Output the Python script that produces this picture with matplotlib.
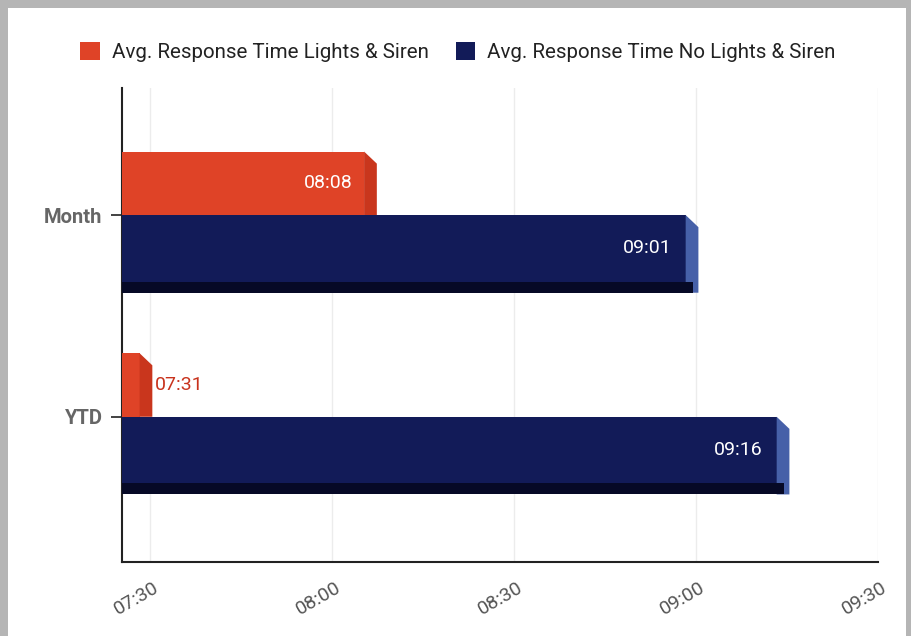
import matplotlib
matplotlib.use("Agg")
import matplotlib.pyplot as plt
from matplotlib.patches import Patch, Polygon

plt.rcParams['font.family'] = ['Roboto', 'DejaVu Sans']

# ---- data ----
categories = ["Month", "YTD"]
series_names = ["Avg. Response Time Lights & Siren", "Avg. Response Time No Lights & Siren"]
lights_siren = ["08:08", "07:31"]
no_lights_siren = ["09:01", "09:16"]
tick_labels = ["07:30", "08:00", "08:30", "09:00", "09:30"]

def to_min(s):
    h, m = s.split(":")
    return int(h) * 60 + int(m)

ls_vals = [to_min(s) for s in lights_siren]
nls_vals = [to_min(s) for s in no_lights_siren]
tick_vals = [to_min(s) for s in tick_labels]

RED = "#df4327"
RED_SIDE = "#c9361d"
NAVY = "#121b58"
NAVY_DARK = "#060926"
NAVY_SIDE = "#4660a8"

fig = plt.figure(figsize=(9.11, 6.36), dpi=100, facecolor="#b5b5b5")
# white paper area
bg = fig.add_axes([8 / 911, 0, (906 - 8) / 911, 1 - 8 / 636], zorder=-5)
bg.set_facecolor("white")
bg.set_xticks([]); bg.set_yticks([])
for s in bg.spines.values():
    s.set_visible(False)

ax = fig.add_axes([122 / 911, 1 - 562 / 636, (878 - 122) / 911, (562 - 88) / 636], zorder=1)
ax.set_facecolor("none")

xmin = 445.4
xmax = 570
ax.set_xlim(xmin, xmax)
ax.set_ylim(1.72, -0.63)

dx = 2.1     # side depth in minutes
dy = 0.06    # side depth in category units
h_red = 0.315
h_blue = 0.385
band = 0.055

ypos = list(range(len(categories)))

for i, y in enumerate(ypos):
    # red bar (above category line)
    v = ls_vals[i] - 0.6
    top, bot = y - h_red, y
    ax.barh(y - h_red / 2, v - dx - xmin, left=xmin, height=h_red,
            color=RED, edgecolor="none", zorder=3)
    ax.add_patch(Polygon([(v - dx, top), (v, top + dy), (v, bot), (v - dx, bot)],
                         closed=True, facecolor=RED_SIDE, edgecolor="none", zorder=3))
    # blue bar (below category line)
    w = nls_vals[i] - 0.6
    top2, bot2 = y, y + h_blue
    ax.barh(y + h_blue / 2, w - dx - xmin, left=xmin, height=h_blue,
            color=NAVY, edgecolor="none", zorder=3)
    ax.add_patch(Polygon([(w - dx, top2), (w, top2 + dy), (w, bot2), (w - dx, bot2)],
                         closed=True, facecolor=NAVY_SIDE, edgecolor="none", zorder=4))
    ax.barh(bot2 - band / 2, w - dx * 0.4 - xmin, left=xmin, height=band,
            color=NAVY_DARK, edgecolor="none", zorder=5)

    # labels
    red_space = v - dx - xmin
    if red_space > 10:
        ax.annotate(lights_siren[i], (v - dx, y - h_red / 2), xytext=(-8, 0),
                    textcoords="offset points", ha="right", va="center",
                    color="white", fontsize=14, zorder=6)
    else:
        ax.annotate(lights_siren[i], (v, y - h_red / 2), xytext=(2, 0),
                    textcoords="offset points", ha="left", va="center",
                    color="#c8321c", fontsize=14, zorder=6)
    ax.annotate(no_lights_siren[i], (w - dx, y + (h_blue - band) / 2), xytext=(-10, 0),
                textcoords="offset points", ha="right", va="center",
                color="white", fontsize=14, zorder=6)

ax.set_xticks(tick_vals)
ax.set_xticklabels([])
ax.tick_params(axis="x", length=0)
for tv, tl in zip(tick_vals, tick_labels):
    ax.annotate(tl, (tv, 0), xycoords=("data", "axes fraction"),
                xytext=(-9.5, -26), textcoords="offset points",
                rotation=30, ha="center", va="center", color="#555555",
                fontsize=14, annotation_clip=False)

ax.set_yticks(ypos)
ax.set_yticklabels(categories, fontweight="bold", color="#666666", fontsize=14.5)
ax.tick_params(axis="y", length=8, width=1.2, color="#222222", pad=6)

ax.grid(axis="x", color="#ececec", linewidth=1, zorder=0)
ax.set_axisbelow(True)
for s in ["top", "right"]:
    ax.spines[s].set_visible(False)
for s in ["left", "bottom"]:
    ax.spines[s].set_color("#222222")
    ax.spines[s].set_linewidth(1.5)

handles = [Patch(facecolor=RED, edgecolor="none"), Patch(facecolor=NAVY, edgecolor="none")]
fig.legend(handles, series_names, loc="center", bbox_to_anchor=(458 / 911, 1 - 52 / 636),
           ncol=2, frameon=False, fontsize=14.8, handlelength=0.95, handleheight=0.95,
           handletextpad=0.6, columnspacing=1.3, labelcolor="#222222")

fig.savefig("out.png", dpi=100, facecolor=fig.get_facecolor())
